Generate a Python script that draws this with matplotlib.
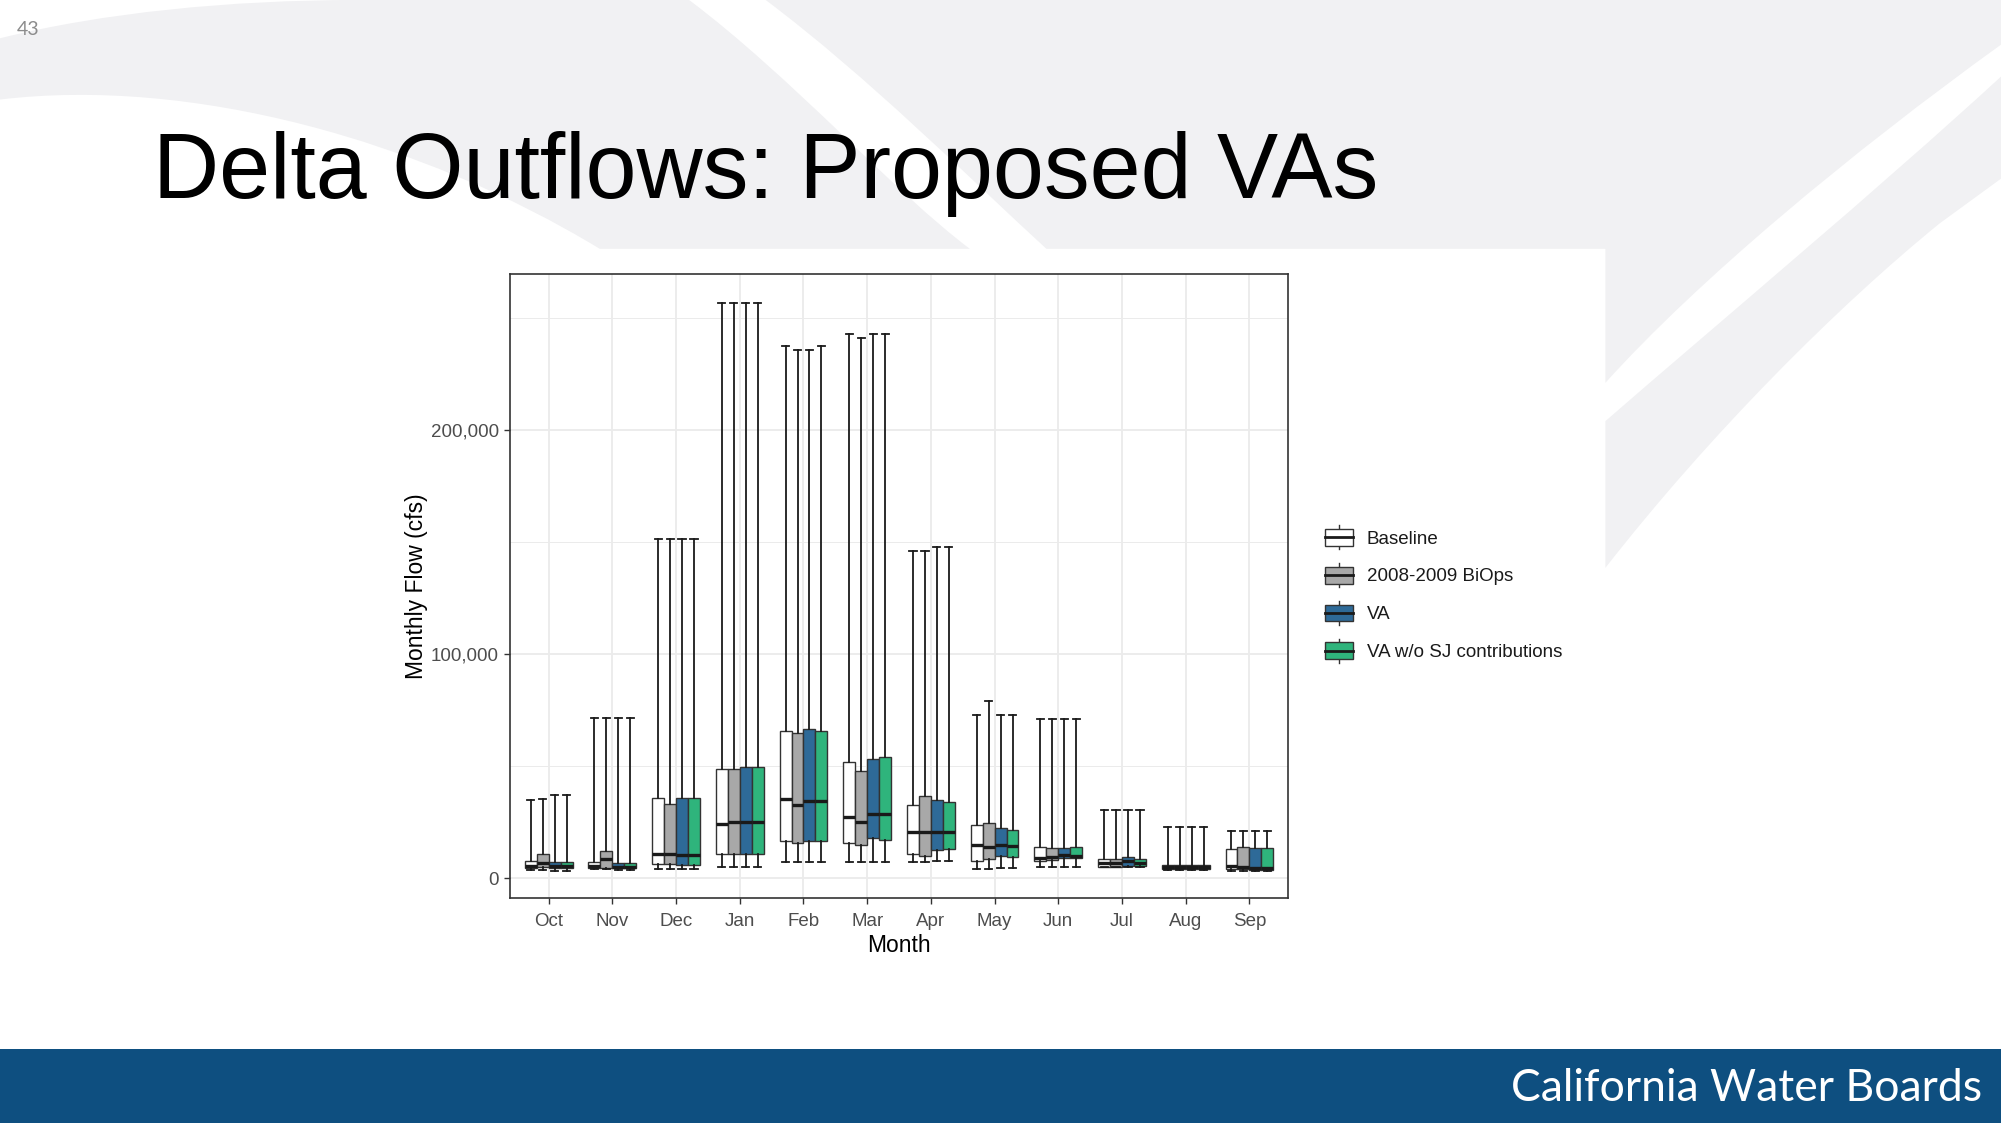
import numpy as np
import matplotlib.pyplot as plt
from matplotlib.patches import Patch, Rectangle, PathPatch
from matplotlib.lines import Line2D
from matplotlib.legend_handler import HandlerBase
from matplotlib.path import Path
from matplotlib.ticker import FixedLocator, FuncFormatter

# --- data (cfs) ---
months = ["Oct", "Nov", "Dec", "Jan", "Feb", "Mar", "Apr", "May", "Jun", "Jul", "Aug", "Sep"]
series_names = ["Baseline", "2008-2009 BiOps", "VA", "VA w/o SJ contributions"]
series_colors = ["#ffffff", "#a8a8a8", "#2e6a98", "#2fb47c"]

base_min = [3600, 3900, 4100, 5000, 7200, 7200, 7200, 4100, 5100, 4800, 3700, 3000]
base_q1 = [4300, 4300, 6300, 10600, 16500, 15500, 10600, 7800, 7800, 5100, 3900, 3900]
base_med = [5200, 5400, 10900, 24300, 35200, 27300, 20700, 14600, 9000, 6800, 5000, 5400]
base_q3 = [7800, 7000, 35600, 48600, 65600, 51700, 32600, 23500, 14000, 8500, 6000, 13000]
base_max = [34800, 71600, 151500, 256500, 237400, 243000, 146200, 72600, 71000, 30500, 22800, 21100]

biops_min = [3600, 3900, 4100, 5000, 7200, 7200, 7200, 4100, 5100, 4800, 3700, 3000]
biops_q1 = [5000, 4600, 6300, 10600, 15500, 14800, 10000, 8300, 8000, 5100, 3900, 3900]
biops_med = [6500, 8500, 10900, 24800, 32800, 24800, 20700, 13900, 9300, 6800, 5000, 5000]
biops_q3 = [10700, 12000, 33200, 48600, 64700, 48000, 36500, 24500, 13500, 8500, 6000, 13700]
biops_max = [35300, 71600, 151500, 256500, 235800, 241300, 146200, 79200, 71000, 30500, 22800, 21100]

va_min = [3300, 3700, 4100, 5000, 7200, 7200, 7700, 4600, 5100, 4800, 3700, 3000]
va_q1 = [4300, 4300, 5600, 10600, 16500, 18000, 12400, 10000, 8800, 5400, 3900, 3600]
va_med = [5400, 5100, 10500, 24800, 34600, 28700, 20700, 14600, 10500, 7500, 5000, 4300]
va_q3 = [7300, 6500, 35600, 49500, 66400, 53200, 35000, 22200, 13200, 9300, 6000, 13200]
va_max = [37000, 71600, 151500, 256500, 235800, 243000, 148000, 72800, 71000, 30500, 22800, 21100]

vasj_min = [3300, 3700, 4100, 5000, 7200, 7200, 7700, 4600, 5100, 4800, 3700, 3000]
vasj_q1 = [4300, 4300, 5600, 10600, 16500, 17000, 13000, 9600, 8800, 5400, 3900, 3600]
vasj_med = [5400, 5100, 10500, 24800, 34600, 28700, 20700, 14300, 9800, 6800, 5000, 4300]
vasj_q3 = [7300, 6500, 35600, 49500, 65600, 54100, 34100, 21300, 14000, 8300, 6000, 13200]
vasj_max = [37000, 71600, 151500, 256500, 237400, 243000, 148000, 72800, 71000, 30500, 22800, 21100]

series_stats = [
    (base_min, base_q1, base_med, base_q3, base_max),
    (biops_min, biops_q1, biops_med, biops_q3, biops_max),
    (va_min, va_q1, va_med, va_q3, va_max),
    (vasj_min, vasj_q1, vasj_med, vasj_q3, vasj_max),
]

W, H = 2001, 1123
S = W / 1568.0  # layout was measured on a 1568 px wide copy

fig = plt.figure(figsize=(W / 100, H / 100), dpi=100)

# --- slide background ---
bg = fig.add_axes([0, 0, 1, 1], zorder=0)
bg.set_xlim(0, W)
bg.set_ylim(H, 0)
bg.axis("off")

def swoosh(pts, codes, color="#f1f1f3"):
    verts = [(x * S, y * S) for x, y in pts]
    bg.add_patch(PathPatch(Path(verts, codes), facecolor=color, edgecolor="none", zorder=1))

M, C, L, Z = Path.MOVETO, Path.CURVE4, Path.LINETO, Path.CLOSEPOLY
swoosh([(0, 30), (80, 10), (180, 0), (280, 0), (540, 0), (620, 60), (700, 150), (760, 195),
        (470, 195), (330, 110), (150, 60), (0, 78), (0, 30)],
       [M, C, C, C, L, C, C, C, L, C, C, C, Z])
swoosh([(600, 0), (1568, 0), (1568, 35), (1450, 120), (1330, 220), (1258, 300),
        (1258, 195), (820, 195), (760, 140), (680, 60), (600, 0)],
       [M, L, L, C, C, C, L, L, C, C, Z])
swoosh([(1568, 60), (1470, 150), (1350, 250), (1258, 330), (1258, 445),
        (1340, 340), (1440, 240), (1520, 175), (1568, 140), (1568, 60)],
       [M, C, C, C, L, C, C, C, L, Z])

bg.add_patch(Rectangle((290 * S, 195 * S), (1258 - 290) * S, (790 - 195) * S,
                       facecolor="white", edgecolor="none", zorder=2))
bg.add_patch(Rectangle((0, 822 * S), W, H - 822 * S, facecolor="#0e4f80", edgecolor="none", zorder=2))

bg.text(1553 * S, 853 * S, "California Water Boards", ha="right", va="center",
        color="white", fontsize=32, family="Lato", zorder=3)
bg.text(13 * S, 23 * S, "43", ha="left", va="center", color="#8c8c8c", fontsize=14,
        family="Lato", zorder=3)
bg.text(120 * S, 155 * S, "Delta Outflows: Proposed VAs", ha="left", va="baseline",
        color="black", fontsize=66, family="Liberation Sans", zorder=3)

# --- chart ---
plt.rcParams["font.family"] = ["Liberation Sans", "DejaVu Sans"]
left, right, top, bottom = 400 * S, 1009 * S, 215 * S, 704 * S
ax = fig.add_axes([left / W, 1 - bottom / H, (right - left) / W, (bottom - top) / H], zorder=1)

x = np.arange(1, len(months) + 1)
box_w = 0.75 / len(series_names)
offsets = (np.arange(len(series_names)) - 1.5) * box_w

for (mn, q1, md, q3, mx), color, off in zip(series_stats, series_colors, offsets):
    stats = [dict(whislo=mn[j], q1=q1[j], med=md[j], q3=q3[j], whishi=mx[j])
             for j in range(len(months))]
    ax.bxp(stats, positions=x + off, widths=box_w, patch_artist=True, showfliers=False,
           manage_ticks=False, capwidths=box_w * 0.6,
           boxprops=dict(facecolor=color, edgecolor="#333333", linewidth=1.0),
           medianprops=dict(color="#1a1a1a", linewidth=2.4, solid_capstyle="butt"),
           whiskerprops=dict(color="#1a1a1a", linewidth=1.3),
           capprops=dict(color="#1a1a1a", linewidth=1.3))

ax.set_xlim(0.4, 12.6)
ax.set_ylim(-9100, 269500)
ax.set_xticks(x)
ax.set_xticklabels(months)
ax.yaxis.set_major_locator(FixedLocator([0, 100000, 200000]))
ax.yaxis.set_minor_locator(FixedLocator([50000, 150000, 250000]))
ax.yaxis.set_major_formatter(FuncFormatter(lambda v, p: f"{v:,.0f}"))
ax.set_axisbelow(True)
ax.grid(which="major", color="#ebebeb", linewidth=1.3)
ax.grid(which="minor", axis="y", color="#ebebeb", linewidth=0.7)
ax.tick_params(which="minor", length=0)
ax.tick_params(which="major", length=4, width=1.0, color="#333333",
               labelsize=13.5, labelcolor="#4d4d4d")
ax.tick_params(axis="y", pad=4.5)
ax.tick_params(axis="x", pad=6.5)
for sp in ax.spines.values():
    sp.set_color("#333333")
    sp.set_linewidth(1.2)
ax.set_xlabel("Month", fontsize=16.5, labelpad=3)
ax.set_ylabel("Monthly Flow (cfs)", fontsize=16.5, labelpad=2)


class BoxKey(HandlerBase):
    def create_artists(self, legend, orig_handle, xdescent, ydescent, width, height,
                       fontsize, trans):
        x0, y0 = -xdescent, -ydescent
        cx = x0 + width / 2
        whisk = Line2D([cx, cx], [y0, y0 + height], color="#333333", lw=1.0, transform=trans)
        box = Rectangle((x0, y0 + height * 0.15), width, height * 0.7,
                        facecolor=orig_handle.get_facecolor(), edgecolor="#333333",
                        lw=1.0, transform=trans)
        med = Line2D([x0, x0 + width], [y0 + height / 2] * 2, color="#1a1a1a", lw=2.0,
                     transform=trans)
        return [whisk, box, med]


handles = [Patch(facecolor=c) for c in series_colors]
fig.legend(handles=handles, labels=series_names, handler_map={Patch: BoxKey()},
           loc="center left", bbox_to_anchor=(1038 * S / W, 1 - 465.5 * S / H),
           frameon=False, fontsize=13.5, handlelength=1.5, handleheight=1.6,
           labelspacing=0.73, handletextpad=0.75, borderpad=0, borderaxespad=0,
           labelcolor="#1a1a1a")

fig.savefig("out.png", dpi=100)
